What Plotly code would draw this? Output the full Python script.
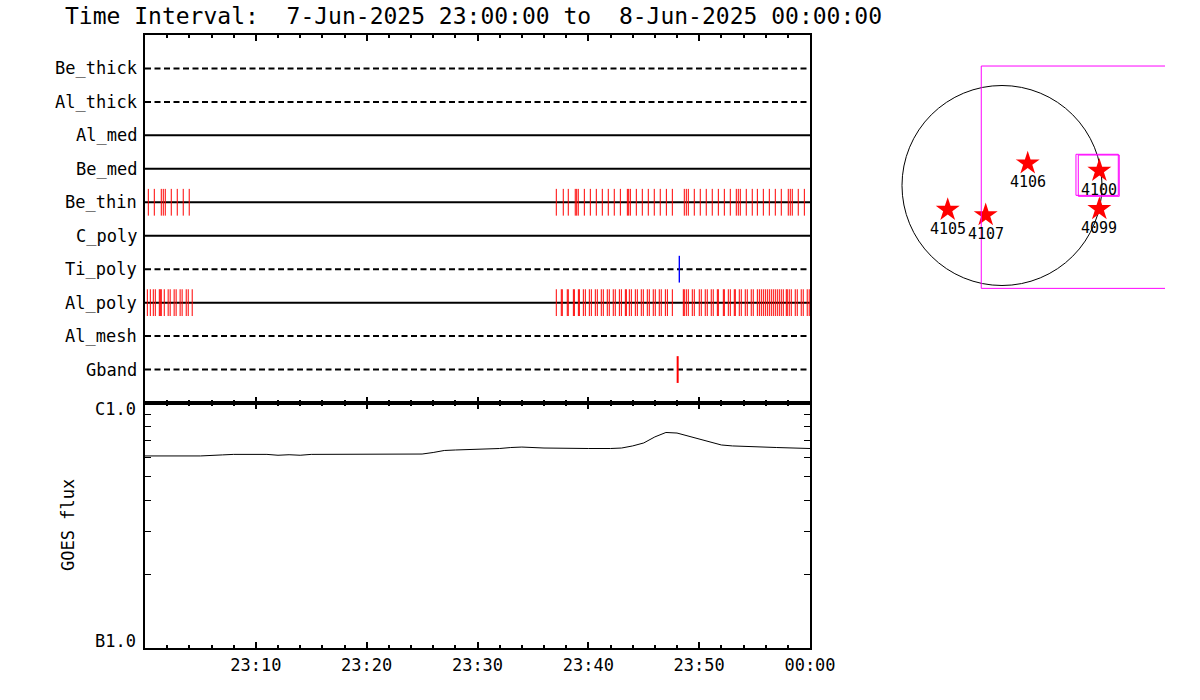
import plotly.graph_objects as go
from datetime import datetime, timedelta

# ---------------- data ----------------
BASE = datetime(2025, 6, 7, 23, 0, 0)
END = datetime(2025, 6, 8, 0, 0, 0)

channels = ["Be_thick", "Al_thick", "Al_med", "Be_med", "Be_thin",
            "C_poly", "Ti_poly", "Al_poly", "Al_mesh", "Gband"]
channel_dashed = [True, True, False, False, False, False, True, False, True, True]

# exposure times, minutes after 23:00
be_thin_min = [0.30, 0.84, 1.47, 1.65, 1.83, 2.37, 2.91, 3.45, 3.99,
               37.11, 37.74, 38.19, 38.82, 38.95, 39.09, 39.64, 40.18, 40.72, 41.26,
               41.80, 42.34, 42.89, 43.52, 43.64, 43.79, 44.33, 44.87, 45.41, 45.95,
               46.49, 47.04, 47.58, 48.66, 48.84, 49.02, 49.56, 50.10, 50.64, 51.18,
               51.73, 52.27, 52.81, 53.35, 53.53, 53.71, 54.25, 54.79, 55.25, 55.79,
               56.33, 56.87, 57.41, 58.04, 58.22, 58.40, 58.94, 59.49]
al_poly_min = [0.21, 0.48, 0.75, 0.93, 1.29, 1.38, 1.47, 1.74, 2.09, 2.27, 2.63,
               2.81, 3.17, 3.35, 3.72, 3.90, 4.26,
               37.11, 37.56, 37.65, 38.10, 38.19, 38.65, 38.74, 39.10, 39.19, 39.55,
               39.73, 40.09, 40.27, 40.63, 40.81, 41.17, 41.35, 41.71, 41.89, 42.25,
               42.43, 42.80, 42.98, 43.34, 43.43, 43.70, 43.88, 44.24, 44.42, 44.78,
               44.96, 45.32, 45.50, 45.86, 46.04, 46.40, 46.58, 46.95, 47.13, 47.58,
               48.57, 48.66, 48.84, 49.02, 49.38, 49.56, 50.01, 50.19, 50.55, 50.73,
               51.09, 51.27, 51.64, 51.73, 52.18, 52.27, 52.63, 52.81, 53.17, 53.26,
               53.62, 53.80, 54.16, 54.34, 54.70, 54.88, 55.25, 55.43, 55.61, 55.79,
               55.97, 56.15, 56.33, 56.51, 56.69, 56.87, 57.05, 57.23, 57.41, 57.59,
               57.86, 57.95, 58.13, 58.31, 58.67, 58.85, 59.21, 59.39, 59.75, 59.93]
ti_poly_min = [48.21]
gband_min = [48.06]

# GOES flux (units of 1e-7 W/m^2)
goes_min = [0, 3, 4, 5, 7, 8, 11, 12, 13, 14, 15, 20, 24, 25, 26, 27, 28, 30, 32, 33,
            34, 36, 38, 40, 42, 43, 44, 45, 46, 47, 48, 49, 50, 51, 52, 53, 55, 57, 60]
goes_flux_e7 = [6.08, 6.08, 6.12, 6.08, 6.14, 6.17, 6.17, 6.12, 6.15, 6.12, 6.17, 6.17,
                6.16, 6.19, 6.28, 6.40, 6.43, 6.46, 6.52, 6.58, 6.61, 6.55, 6.52, 6.52,
                6.52, 6.55, 6.68, 6.87, 7.27, 7.58, 7.54, 7.33, 7.10, 6.90, 6.74, 6.68,
                6.65, 6.58, 6.52]

time_tick_labels = ["23:10", "23:20", "23:30", "23:40", "23:50", "00:00"]
time_tick_min = [10, 20, 30, 40, 50, 60]

# active regions (arcsec)
ar_names = ["4106", "4100", "4099", "4105", "4107"]
ar_x = [243, 920, 920, -513, -154]
ar_y = [210, 140, -222, -229, -279]
sun_radius = 945

# ---------------- figure ----------------
FONT = "DejaVu Sans Mono"
W, H = 1200, 700


def px_x(p):
    return p / W


def px_y(p):
    return 1 - p / H


def tm(m):
    return BASE + timedelta(minutes=m)


fig = go.Figure()

# channel base lines
for i, (name, dashed) in enumerate(zip(channels, channel_dashed)):
    fig.add_trace(go.Scatter(
        x=[BASE, END], y=[i, i], mode="lines",
        line=dict(color="black", width=2, dash="6px,3.5px" if dashed else "solid"),
        xaxis="x", yaxis="y", showlegend=False, hoverinfo="skip"))


def event_trace(times, row, color, width):
    xs, ys = [], []
    for m in times:
        xs += [tm(m), tm(m), None]
        ys += [row - 0.4, row + 0.4, None]
    return go.Scatter(x=xs, y=ys, mode="lines", line=dict(color=color, width=width),
                      xaxis="x", yaxis="y", showlegend=False, hoverinfo="skip")


fig.add_trace(event_trace(be_thin_min, channels.index("Be_thin"), "red", 1))
fig.add_trace(event_trace(al_poly_min, channels.index("Al_poly"), "red", 1))
fig.add_trace(event_trace(ti_poly_min, channels.index("Ti_poly"), "#0000ff", 1.4))
fig.add_trace(event_trace(gband_min, channels.index("Gband"), "red", 2))

# GOES curve
fig.add_trace(go.Scatter(
    x=[tm(m) for m in goes_min], y=[v * 1e-7 for v in goes_flux_e7],
    mode="lines", line=dict(color="black", width=1),
    xaxis="x2", yaxis="y2", showlegend=False))

# solar disk panel: stars
fig.add_trace(go.Scatter(
    x=ar_x, y=ar_y, mode="markers",
    marker=dict(symbol="star", size=18, color="red", line=dict(width=0)),
    xaxis="x3", yaxis="y3", showlegend=False))

# large FOV box (open on the right, clipped)
fig.add_trace(go.Scatter(
    x=[2000, -196, -196, 2000], y=[1129, 1129, -972, -972], mode="lines",
    line=dict(color="#ff00ff", width=1), xaxis="x3", yaxis="y3", showlegend=False))
# small boxes
fig.add_trace(go.Scatter(
    x=[699, 1099, 1099, 699, 699], y=[295, 295, -93, -93, 295], mode="lines",
    line=dict(color="#ff00ff", width=1), xaxis="x3", yaxis="y3", showlegend=False))
fig.add_trace(go.Scatter(
    x=[721, 1108, 1108, 721, 721], y=[288, 288, -102, -102, 288], mode="lines",
    line=dict(color="#ff00ff", width=1), xaxis="x3", yaxis="y3", showlegend=False))

fig.add_shape(type="circle", xref="x3", yref="y3",
              x0=-sun_radius, x1=sun_radius, y0=-sun_radius, y1=sun_radius,
              line=dict(color="black", width=1), layer="below")

annotations = []
for n, xv, yv in zip(ar_names, ar_x, ar_y):
    annotations.append(dict(x=xv, y=yv, xref="x3", yref="y3", text=n, showarrow=False,
                            yshift=-19, font=dict(family=FONT, size=15, color="black")))

for i, name in enumerate(channels):
    ypix = 35 + (i + 1) * 368 / 11
    annotations.append(dict(x=px_x(139), y=px_y(ypix), xref="paper", yref="paper",
                            text=name, showarrow=False, xanchor="right", yanchor="middle",
                            font=dict(family=FONT, size=17, color="black")))

annotations.append(dict(x=px_x(138), y=px_y(409), xref="paper", yref="paper", text="C1.0",
                        showarrow=False, xanchor="right", yanchor="middle",
                        font=dict(family=FONT, size=17, color="black")))
annotations.append(dict(x=px_x(138), y=px_y(641), xref="paper", yref="paper", text="B1.0",
                        showarrow=False, xanchor="right", yanchor="middle",
                        font=dict(family=FONT, size=17, color="black")))
annotations.append(dict(x=px_x(68), y=px_y(525), xref="paper", yref="paper", text="GOES flux",
                        showarrow=False, textangle=-90, xanchor="center", yanchor="middle",
                        font=dict(family=FONT, size=17, color="black")))
annotations.append(dict(x=px_x(63), y=px_y(16), xref="paper", yref="paper",
                        text="Time Interval:  7-Jun-2025 23:00:00 to  8-Jun-2025 00:00:00",
                        showarrow=False, xanchor="left", yanchor="middle",
                        font=dict(family=FONT, size=23, color="black")))

xdom = [px_x(145), px_x(810)]
time_axis_common = dict(
    type="date", range=[BASE, END], domain=xdom, automargin=False,
    showline=True, linecolor="black", linewidth=2, mirror="ticks",
    showgrid=False, zeroline=False,
    ticks="inside", tickcolor="black", ticklen=6, tickwidth=2,
    tickmode="array", tickvals=[tm(m) for m in time_tick_min],
    minor=dict(ticks="inside", ticklen=3, tickwidth=2, tickcolor="black",
               dtick=120000, tick0=BASE, showgrid=False),
)

fig.update_layout(
    template="none",
    width=W, height=H, autosize=False, margin=dict(l=0, r=0, t=0, b=0, pad=0),
    paper_bgcolor="white", plot_bgcolor="white",
    showlegend=False,
    xaxis=dict(**time_axis_common, anchor="y", showticklabels=False),
    yaxis=dict(domain=[px_y(403), px_y(35)], range=[10, -1], anchor="x", automargin=False,
               showline=True, linecolor="black", linewidth=2, mirror=True,
               showgrid=False, zeroline=False, showticklabels=False, ticks=""),
    xaxis2=dict(**time_axis_common, anchor="y2", showticklabels=True,
                ticktext=time_tick_labels,
                tickfont=dict(family=FONT, size=17, color="black"),
                ticklabelstandoff=1),
    yaxis2=dict(domain=[px_y(648), px_y(403)], type="log", range=[-7, -6], anchor="x2",
                automargin=False,
                showline=True, linecolor="black", linewidth=2, mirror="ticks",
                showgrid=False, zeroline=False, showticklabels=False,
                ticks="inside", ticklen=6, tickwidth=1, tickcolor="black",
                tickmode="array", tickvals=[1e-7, 1e-6],
                minor=dict(ticks="inside", ticklen=6, tickwidth=1, tickcolor="black",
                           tickmode="array",
                           tickvals=[k * 1e-7 for k in range(2, 10)], showgrid=False)),
    xaxis3=dict(domain=[px_x(900), px_x(1165)], range=[-963.9, 1540.4], anchor="y3",
                automargin=False, visible=False),
    yaxis3=dict(domain=[px_y(300), px_y(60)], range=[-1082.0, 1186.0], anchor="x3",
                automargin=False, visible=False),
    annotations=annotations,
)

fig.write_html(
    "out.html",
    config={"displayModeBar": False},
    post_script="document.body.style.margin='0px';document.body.style.overflow='hidden';",
)
